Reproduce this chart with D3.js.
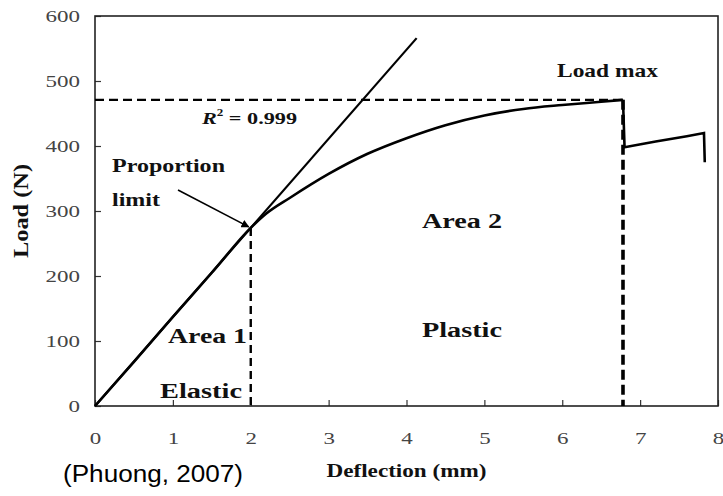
<!DOCTYPE html>
<html>
<head>
<meta charset="utf-8">
<script src="https://cdn.jsdelivr.net/npm/d3@7"></script>
<style>
  body { margin: 0; background: #fff; }
</style>
</head>
<body>
<script>
// load-deflection curve (Phuong, 2007)
var deflection = [0, 0.5, 1.0, 1.5, 2.0, 2.2, 2.5, 3.0, 3.5, 4.0, 4.5, 5.0, 5.5, 6.0, 6.5, 6.78];
var load       = [0, 68, 137, 205, 274, 296, 320, 357, 388, 412, 432, 447, 457, 463, 468, 471];
// after the peak: sudden drop, small rise, then failure
var postDefl = [6.78, 6.80, 7.2, 7.6, 7.82, 7.83];
var postLoad = [471, 398, 407, 415, 420, 375];
// linear fit of the elastic part
var fitDefl = [0, 4.13];
var fitLoad = [0, 566];
var loadMax = 471;
var deflMax = 6.78;
var propDefl = 2.0;
var propLoad = 274;
var elasticEnd = 2.0;

var xTicks = [0, 1, 2, 3, 4, 5, 6, 7, 8];
var yTicks = [0, 100, 200, 300, 400, 500, 600];

var width = 723;
var height = 496;
var margin = {top: 16, right: 5, bottom: 90, left: 95};
var serif = "'Liberation Serif', 'DejaVu Serif', serif";

var svg = d3.select("body").append("svg")
            .attr("width", width)
            .attr("height", height);

svg.append("rect").attr("width", width).attr("height", height).attr("fill", "#fff");

var x = d3.scaleLinear().domain([0, 8]).range([margin.left, width - margin.right]);
var y = d3.scaleLinear().domain([0, 600]).range([height - margin.bottom, margin.top]);

// stretch text horizontally like the scanned figure
function stretch(sel, k) {
  sel.each(function() {
    var w = this.getComputedTextLength();
    d3.select(this).attr("textLength", w * k).attr("lengthAdjust", "spacingAndGlyphs");
  });
}

// axes
var xAxis = svg.append("g")
    .attr("transform", "translate(0," + y(0) + ")")
    .call(d3.axisBottom(x).tickValues(xTicks).tickFormat(d3.format("d"))
            .tickSizeInner(-6).tickSizeOuter(0).tickPadding(26));
var yAxis = svg.append("g")
    .attr("transform", "translate(" + x(0) + ",0)")
    .call(d3.axisLeft(y).tickValues(yTicks)
            .tickSizeInner(-6).tickSizeOuter(0).tickPadding(15));

[xAxis, yAxis].forEach(function(a) {
  a.select(".domain").remove();
  a.attr("font-family", null);
  a.selectAll("line").attr("stroke", "#333").attr("stroke-width", 1.2);
  a.selectAll("text")
    .style("font-family", serif)
    .style("font-size", "17px")
    .attr("fill", "#444");
  stretch(a.selectAll("text"), 1.35);
});

// frame
svg.append("rect")
   .attr("x", x(0)).attr("y", y(600))
   .attr("width", x(8) - x(0)).attr("height", y(0) - y(600))
   .attr("fill", "none").attr("stroke", "#222").attr("stroke-width", 1.6);

// dashed guides
var dash = svg.append("g").attr("stroke", "#000").attr("fill", "none");
dash.append("line")
    .attr("x1", x(0)).attr("x2", x(deflMax))
    .attr("y1", y(loadMax)).attr("y2", y(loadMax))
    .attr("stroke-width", 2.4).attr("stroke-dasharray", "9,5");
dash.append("line")
    .attr("x1", x(elasticEnd)).attr("x2", x(elasticEnd))
    .attr("y1", y(propLoad)).attr("y2", y(0))
    .attr("stroke-width", 2.4).attr("stroke-dasharray", "8,5");
dash.append("line")
    .attr("x1", x(deflMax)).attr("x2", x(deflMax))
    .attr("y1", y(loadMax)).attr("y2", y(0))
    .attr("stroke-width", 3.6).attr("stroke-dasharray", "10,5");

// fitted line
var line = d3.line().x(function(d) { return x(d[0]); }).y(function(d) { return y(d[1]); });
svg.append("path")
   .datum(d3.zip(fitDefl, fitLoad))
   .attr("d", line)
   .attr("fill", "none").attr("stroke", "#000").attr("stroke-width", 2.2);

// main curve
var curve = d3.line().curve(d3.curveMonotoneX)
              .x(function(d) { return x(d[0]); }).y(function(d) { return y(d[1]); });
svg.append("path")
   .datum(d3.zip(deflection, load))
   .attr("d", curve)
   .attr("fill", "none").attr("stroke", "#000").attr("stroke-width", 2.6);
svg.append("path")
   .datum(d3.zip(postDefl, postLoad))
   .attr("d", line)
   .attr("fill", "none").attr("stroke", "#000").attr("stroke-width", 2.6)
   .attr("stroke-linejoin", "miter");

// arrow to proportion limit
svg.append("defs").append("marker")
   .attr("id", "head").attr("viewBox", "0 0 10 10")
   .attr("refX", 9).attr("refY", 5)
   .attr("markerWidth", 5).attr("markerHeight", 5)
   .attr("orient", "auto")
   .append("path").attr("d", "M0,0L10,5L0,10z").attr("fill", "#000");
svg.append("line")
   .attr("x1", 178).attr("y1", 190)
   .attr("x2", x(propDefl) - 2).attr("y2", y(propLoad) - 1)
   .attr("stroke", "#000").attr("stroke-width", 1.6)
   .attr("marker-end", "url(#head)");

// annotations
function label(t, px, py, size, w) {
  var s = svg.append("text")
     .attr("x", px).attr("y", py)
     .style("font-family", serif)
     .attr("font-size", size).attr("font-weight", "bold")
     .attr("fill", "#111")
     .text(t);
  if (w) s.attr("textLength", w).attr("lengthAdjust", "spacingAndGlyphs");
  return s;
}
label("Load max", 557, 77, 19, 101);
label("Proportion", 112, 172, 19, 113);
label("limit", 112, 206, 19, 48);
label("Area 2", 422, 228, 20, 80);
label("Plastic", 422, 337, 20, 80);
label("Area 1", 168, 343, 20, 79);
label("Elastic", 160, 398, 20, 82);

var r2 = svg.append("text").attr("x", 202).attr("y", 124)
            .style("font-family", serif)
            .attr("font-size", 17).attr("font-weight", "bold").attr("fill", "#111");
r2.append("tspan").attr("font-style", "italic").text("R");
r2.append("tspan").attr("dy", -8).attr("font-size", 10).text("2");
r2.append("tspan").attr("dy", 8).text(" = 0.999");
r2.attr("textLength", 95).attr("lengthAdjust", "spacingAndGlyphs");

// axis titles
svg.append("text")
   .attr("x", x(4)).attr("y", 477)
   .attr("text-anchor", "middle")
   .style("font-family", serif)
   .attr("font-size", 19).attr("font-weight", "bold").attr("fill", "#111")
   .attr("textLength", 160).attr("lengthAdjust", "spacingAndGlyphs")
   .text("Deflection (mm)");
svg.append("text")
   .attr("transform", "translate(28," + y(300) + ") rotate(-90)")
   .attr("text-anchor", "middle")
   .style("font-family", serif)
   .attr("font-size", 20).attr("font-weight", "bold").attr("fill", "#111")
   .attr("textLength", 94).attr("lengthAdjust", "spacingAndGlyphs")
   .text("Load (N)");

svg.append("text")
   .attr("x", 63).attr("y", 482)
   .style("font-family", "'Liberation Sans', Arial, sans-serif")
   .attr("font-size", 23).attr("fill", "#000")
   .attr("textLength", 180).attr("lengthAdjust", "spacingAndGlyphs")
   .text("(Phuong, 2007)");
</script>
</body>
</html>
